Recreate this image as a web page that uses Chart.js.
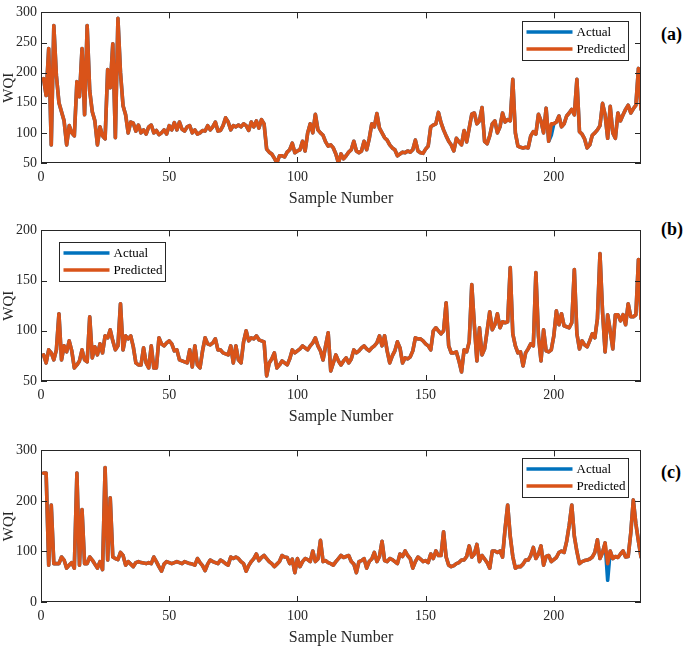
<!DOCTYPE html>
<html><head><meta charset="utf-8">
<script src="https://cdn.jsdelivr.net/npm/chart.js@4/dist/chart.umd.min.js"></script>
<style>
html,body{margin:0;padding:0;background:#fff;}
#wrap{position:relative;width:685px;height:646px;overflow:hidden;background:#fff;}
canvas{position:absolute;left:0;}
.plab{position:absolute;font:bold 18px 'Liberation Serif','Times New Roman',serif;color:#000;line-height:20px;}
</style></head><body>
<div id="wrap">
<canvas id="ca" width="660" height="208" style="top:0px"></canvas>
<canvas id="cb" width="660" height="208" style="top:218px"></canvas>
<canvas id="cc" width="660" height="209" style="top:438px"></canvas>
<div class="plab" style="left:661px;top:24px">(a)</div>
<div class="plab" style="left:661px;top:219px">(b)</div>
<div class="plab" style="left:661px;top:462px">(c)</div>
</div>
<script>
const sampleNumbers = Array.from({length: 234}, (_, i) => i + 1);
const xTickValues = [0, 50, 100, 150, 200];
const yTicksA = [50, 100, 150, 200, 250, 300];
const yTicksB = [50, 100, 150, 200];
const yTicksC = [0, 100, 200, 300];
const seriesNames = ['Actual', 'Predicted'];

const predictedA = [
190,162,240,80,278,195,150,135,120,80,
112,100,95,185,160,240,130,278,170,135,
120,80,110,95,90,205,175,248,92,290,
200,145,130,100,118,116,103,113,100,105,
98,110,113,100,104,97,100,105,98,112,
105,117,105,118,106,103,110,112,100,105,
98,100,104,103,112,105,110,118,103,104,
112,125,118,105,112,110,113,110,115,112,
104,118,110,120,108,122,115,73,68,65,
58,50,62,62,60,68,72,83,67,70,
72,86,70,100,115,100,131,105,100,96,
85,78,80,75,65,50,65,57,62,68,
72,86,70,67,70,86,72,90,115,110,
132,108,100,92,88,80,75,72,62,65,
68,67,70,68,72,88,70,67,66,73,
78,110,113,115,134,117,105,95,86,80,
70,91,85,80,104,85,108,131,133,115,
120,142,86,82,95,115,120,100,110,133,
118,122,120,189,100,78,76,75,76,75,
95,102,98,131,120,100,141,86,115,115,
118,128,110,115,128,133,139,130,189,102,
98,90,75,80,96,100,105,112,149,130,
91,144,100,91,133,120,130,139,146,133,
140,146,207,139];
const actualA = [
190,162,240,80,278,195,150,135,120,80,
112,100,95,185,160,240,130,278,170,135,
120,80,110,95,90,205,175,248,92,290,
200,145,130,100,118,116,103,113,100,105,
98,110,113,100,104,97,100,105,98,112,
105,117,105,118,106,103,110,112,100,105,
98,100,104,103,112,105,110,118,103,104,
112,125,118,105,112,110,113,110,115,112,
104,118,110,120,108,122,115,73,68,65,
58,50,62,62,60,68,72,83,67,70,
72,86,70,100,115,100,131,105,100,96,
85,78,80,75,65,50,65,57,62,68,
72,86,70,67,70,86,72,90,115,110,
132,108,100,92,88,80,75,72,62,65,
68,67,70,68,72,88,70,67,66,73,
78,110,113,115,134,117,105,95,86,80,
70,91,85,80,104,85,108,131,133,115,
120,142,86,82,95,115,120,100,110,133,
118,122,120,189,100,78,76,75,76,75,
95,102,98,131,120,100,141,86,96,115,
118,128,110,115,128,133,139,130,189,102,
98,90,75,80,96,100,105,112,149,130,
91,144,100,91,133,120,130,139,146,133,
140,146,207,139];

const predictedB = [
76,68,81,78,71,81,117,71,85,79,
90,80,63,66,70,81,71,69,114,73,
84,76,87,78,95,93,101,90,81,85,
127,81,95,92,95,84,68,66,66,83,
68,63,85,63,63,93,87,85,88,90,
87,80,81,71,70,69,68,81,64,85,
66,63,80,93,87,86,88,92,81,81,
78,77,76,85,68,85,71,68,89,100,
90,93,92,95,91,90,89,55,68,72,
78,63,66,70,68,66,72,81,78,80,
82,85,83,81,85,88,93,85,80,71,
85,98,60,68,76,70,66,70,73,68,
72,81,78,80,83,85,82,80,83,85,
88,95,85,95,80,68,75,80,89,83,
68,73,72,74,80,93,92,92,90,87,
85,81,100,103,100,97,100,128,85,78,
78,79,70,59,81,79,89,146,106,70,
103,76,82,100,119,101,106,117,103,109,
108,109,163,97,85,78,79,65,78,82,
87,85,158,95,70,101,80,79,81,95,
120,106,117,105,104,103,108,161,97,82,
90,86,84,90,97,93,112,177,119,79,
116,100,82,116,116,110,116,106,127,114,
114,116,171,112];
const actualB = [
76,68,81,78,71,81,117,71,85,79,
90,80,63,66,70,81,71,69,114,73,
84,76,87,78,95,93,101,90,81,85,
127,81,95,92,95,84,68,66,66,83,
68,63,85,63,63,93,87,85,88,90,
87,80,81,71,70,69,68,81,64,85,
66,63,80,93,87,86,88,92,81,81,
78,77,76,85,68,85,71,68,89,100,
90,93,92,95,91,90,89,55,68,72,
78,63,66,70,68,66,72,81,78,80,
82,85,83,81,85,88,93,85,80,71,
85,98,60,68,76,70,66,70,73,68,
72,81,78,80,83,85,82,80,83,85,
88,95,85,95,80,68,75,80,89,83,
68,73,72,74,80,93,92,92,90,87,
85,81,100,103,100,97,100,128,85,78,
78,79,70,59,81,79,89,146,106,70,
103,76,82,100,119,101,106,117,103,109,
108,109,163,97,85,78,79,65,78,82,
87,85,158,95,70,101,80,79,81,95,
120,106,117,105,104,103,108,161,97,82,
90,86,84,90,97,93,112,177,119,79,
116,100,82,116,116,110,116,106,127,114,
114,116,171,112];

const predictedC = [
255,255,73,192,76,76,76,89,83,67,
73,78,67,255,73,183,76,76,89,83,
75,67,80,64,266,83,206,89,86,84,
98,92,73,80,75,70,78,80,78,77,
76,78,76,89,80,70,61,75,80,78,
76,78,80,78,76,80,78,76,75,73,
86,78,72,62,75,83,80,78,76,83,
80,76,73,89,86,89,86,80,76,61,
72,80,86,95,82,88,92,86,80,76,
70,75,80,92,89,88,76,85,58,86,
70,80,86,84,80,101,80,85,122,80,
82,78,76,73,80,86,92,88,90,92,
80,75,58,80,82,86,67,80,85,98,
80,90,120,82,80,86,84,80,76,95,
90,101,92,86,67,80,89,85,80,82,
78,95,86,101,92,92,139,89,73,70,
72,76,78,83,83,90,111,89,95,114,
80,92,85,78,67,101,101,98,101,89,
145,192,130,90,67,70,70,75,83,83,
92,108,86,95,111,73,90,92,80,84,
88,98,101,98,120,152,192,130,100,76,
80,82,83,85,89,98,123,86,98,117,
76,101,86,90,88,95,101,89,90,136,
202,155,120,89];
const actualC = [
255,255,73,192,76,76,76,89,83,67,
73,78,67,255,73,183,76,76,89,83,
75,67,80,64,266,83,206,89,86,84,
98,92,73,80,75,70,78,80,78,77,
76,78,76,89,80,70,61,75,80,78,
76,78,80,78,76,80,78,76,75,73,
86,78,72,62,75,83,80,78,76,83,
80,76,73,89,86,89,86,80,76,61,
72,80,86,95,82,88,92,86,80,76,
70,75,80,92,89,88,76,85,58,86,
70,80,86,84,80,101,80,85,122,80,
82,78,76,73,80,86,92,88,90,92,
80,75,58,80,82,86,67,80,85,98,
80,90,120,82,80,86,84,80,76,95,
90,101,92,86,67,80,89,85,80,82,
78,95,86,101,92,92,139,89,73,70,
72,76,78,83,83,90,111,89,95,114,
80,92,85,78,67,101,101,98,101,89,
145,192,130,90,67,70,70,75,83,83,
92,108,86,95,111,73,90,92,80,84,
88,98,101,98,120,152,192,130,100,76,
80,82,83,85,89,98,123,86,98,117,
43,101,86,90,88,95,101,89,90,136,
202,155,120,89];

const SERIF = "'Liberation Serif','Times New Roman',serif";
const AX = '#262626';
const BLUE = '#0072BD';
const ORANGE = '#D95319';

const framePlugin = {
  id: 'frame',
  afterDatasetsDraw(chart, args, opts) {
    const {ctx, chartArea: a} = chart;
    const x = chart.scales.x, y = chart.scales.y;
    ctx.save();
    ctx.strokeStyle = AX;
    ctx.lineWidth = 1;
    ctx.beginPath();
    x.ticks.forEach(t => {
      const px = Math.round(x.getPixelForValue(t.value)) + 0.5;
      ctx.moveTo(px, a.bottom); ctx.lineTo(px, a.bottom - 6);
      ctx.moveTo(px, a.top); ctx.lineTo(px, a.top + 6);
    });
    y.ticks.forEach(t => {
      const py = Math.round(y.getPixelForValue(t.value)) + 0.5;
      ctx.moveTo(a.left, py); ctx.lineTo(a.left + 6, py);
      ctx.moveTo(a.right, py); ctx.lineTo(a.right - 6, py);
    });
    ctx.stroke();
    ctx.strokeRect(Math.round(a.left) + 0.5, Math.round(a.top) + 0.5,
      Math.round(a.right - a.left) - 1, Math.round(a.bottom - a.top) - 1);
    // legend
    const bx = Math.round(a.left + opts.dx) + 0.5, by = Math.round(a.top + opts.dy) + 0.5;
    ctx.fillStyle = '#fff';
    ctx.fillRect(bx, by, opts.w, opts.h);
    ctx.strokeRect(bx, by, opts.w, opts.h);
    const rows = [10.5, 27.5];
    chart.data.datasets.forEach((ds, i) => {
      const ry = by + rows[i];
      ctx.strokeStyle = ds.borderColor;
      ctx.lineWidth = 3.6;
      ctx.beginPath();
      ctx.moveTo(bx + 4, ry); ctx.lineTo(bx + 50, ry);
      ctx.stroke();
      ctx.fillStyle = '#000';
      ctx.font = "13px " + SERIF;
      ctx.textBaseline = 'middle';
      ctx.textAlign = 'left';
      ctx.fillText(ds.label, bx + 54, ry + 0.5);
    });
    ctx.restore();
  }
};

function pts(arr) { return sampleNumbers.map((s, i) => ({x: s, y: arr[i]})); }

function makeChart(id, actual, predicted, yMin, yMax, yTicks, legend) {
  const line = {borderWidth: 3.6, pointRadius: 0, tension: 0, borderJoinStyle: 'round', borderCapStyle: 'round'};
  return new Chart(document.getElementById(id), {
    type: 'line',
    data: {
      datasets: [
        Object.assign({label: seriesNames[0], data: pts(actual), borderColor: BLUE, backgroundColor: BLUE, order: 1}, line),
        Object.assign({label: seriesNames[1], data: pts(predicted), borderColor: ORANGE, backgroundColor: ORANGE, order: 0}, line)
      ]
    },
    options: {
      responsive: false,
      animation: false,
      devicePixelRatio: 1,
      layout: {padding: {top: 5, right: 19, left: 0, bottom: 0}},
      plugins: {legend: {display: false}, tooltip: {enabled: false}, frame: legend},
      scales: {
        x: {
          type: 'linear', min: 0, max: 234,
          afterBuildTicks: s => { s.ticks = xTickValues.map(v => ({value: v})); },
          afterFit: s => { s.height = 45; },
          grid: {display: false, drawTicks: false},
          border: {display: false},
          ticks: {color: AX, font: {family: SERIF, size: 14}, padding: 6, maxRotation: 0},
          title: {display: true, text: 'Sample Number', color: AX, font: {family: SERIF, size: 16}, padding: {top: 0, bottom: 0}}
        },
        y: {
          type: 'linear', min: yMin, max: yMax,
          afterBuildTicks: s => { s.ticks = yTicks.map(v => ({value: v})); },
          afterFit: s => { s.width = 41; },
          grid: {display: false, drawTicks: false},
          border: {display: false},
          ticks: {color: AX, font: {family: SERIF, size: 14}, padding: 4},
          title: {display: true, text: 'WQI', color: AX, font: {family: SERIF, size: 15}, padding: {top: 0, bottom: 0}}
        }
      }
    },
    plugins: [framePlugin]
  });
}

makeChart('ca', actualA, predictedA, 50, 300, yTicksA, {dx: 481, dy: 9, w: 106, h: 39});
makeChart('cb', actualB, predictedB, 50, 200, yTicksB, {dx: 18, dy: 12, w: 106, h: 39});
makeChart('cc', actualC, predictedC, 0, 300, yTicksC, {dx: 481, dy: 8, w: 106, h: 39});
</script>
</body></html>
